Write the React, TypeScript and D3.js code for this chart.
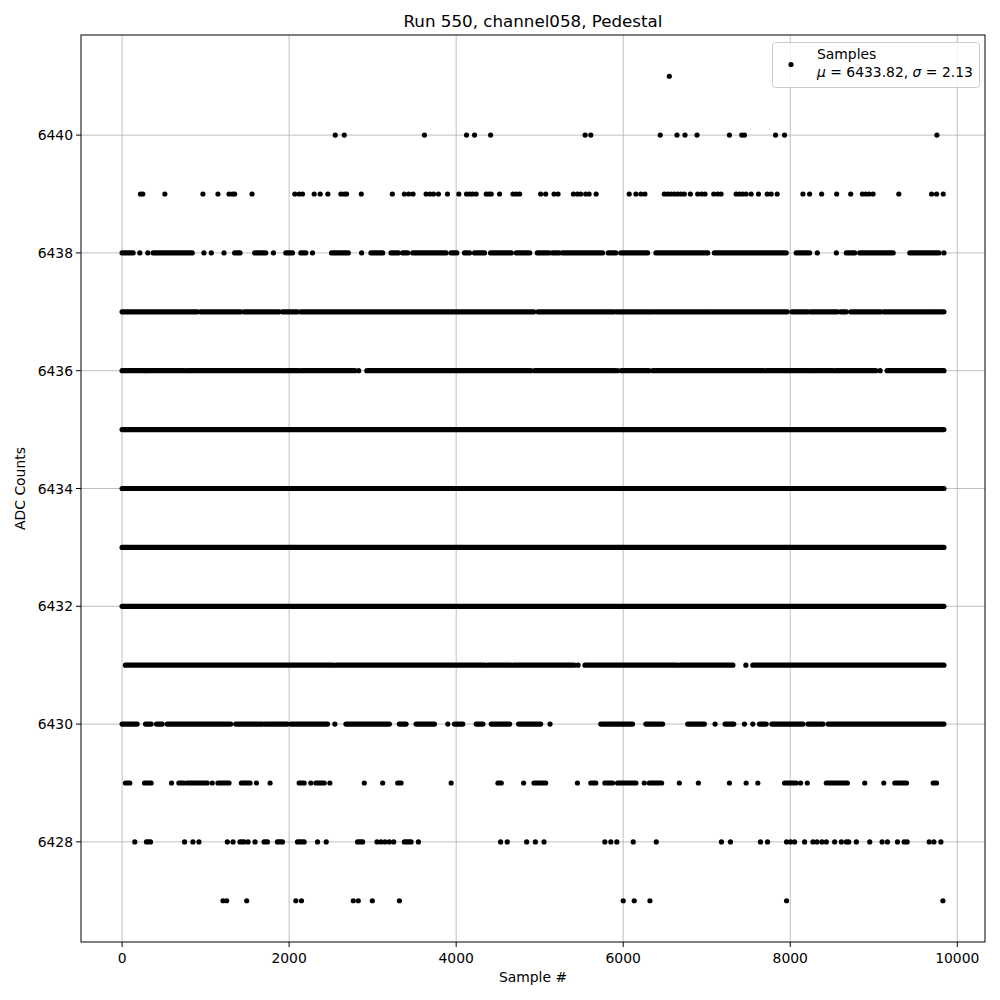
import React from 'react';
import * as d3 from 'd3';

type Run = number | [number, number];

const title = 'Run 550, channel058, Pedestal';
const xLabel = 'Sample #';
const yLabel = 'ADC Counts';
const xTicks = [0, 2000, 4000, 6000, 8000, 10000];
const yTicks = [6428, 6430, 6432, 6434, 6436, 6438, 6440];
const legendTitle = 'Samples';
const legendMu = '6433.82';
const legendSigma = '2.13';

const row6441: Run[] = [6552];
const row6440: Run[] = [2552, 2660, 3620, 4124, 4220, 4412, 5544, 5612, 6444, 6644, 6740, 6884, 7272, 7420, 7452, 7824, 7932, 9756];
const row6439: Run[] = [220, 248, 512, 968, 1148, 1280, 1320, 1348, 1556, 2068, 2120, 2160, 2300, 2372, 2464, 2620, 2660, 2688, 2864, 3236, 3380, 3432, 3484, 3640, 3688, 3728, 3788, 3896, 4032, 4124, 4160, 4196, 4240, 4360, 4392, 4420, 4520, 4680, 4720, 4760, 5012, 5072, 5172, 5220, 5404, 5452, 5492, 5552, 5592, 5676, 6072, 6152, 6212, 6260, 6492, 6532, 6572, 6612, 6652, 6692, 6732, 6804, 6892, 6940, 6980, 7084, 7132, 7172, 7352, 7392, 7432, 7472, 7532, 7620, 7724, 7772, 7844, 8152, 8232, 8376, 8556, 8724, 8864, 8904, 8944, 8992, 9300, 9692, 9752, 9832];
const row6438: Run[] = [[0, 132], 212, 308, [372, 840], 980, 1068, 1220, [1348, 1412], [1588, 1720], 1812, [1960, 2040], [2140, 2200], 2280, [2508, 2708], 2868, [2980, 3120], [3220, 3308], [3360, 3420], [3480, 3880], [3940, 4008], [4100, 4160], [4220, 4340], [4412, 4660], [4720, 4880], [4972, 5112], [5152, 5232], [5272, 5752], [5820, 5912], [5972, 6292], [6392, 7012], [7092, 7952], [8072, 8232], 8324, 8552, [8672, 8772], [8832, 9232], [9432, 9780], 9840];
const row6437: Run[] = [[0, 900], [940, 1420], [1460, 1880], [1920, 2100], [2140, 4930], [4980, 5792], [5812, 5892], [5924, 6352], [6380, 7012], [7032, 7964], [8020, 8212], [8244, 8564], [8604, 8672], [8724, 9084], [9120, 9672], [9692, 9840]];
const row6436: Run[] = [[0, 272], [292, 745], [778, 1932], [1958, 2107], [2139, 2788], 2833, [2930, 4895], [4940, 5900], 5932, [5977, 6308], [6353, 7682], [7715, 8234], [8253, 8512], [8545, 9024], 9076, [9160, 9840]];
const row6435: Run[] = [[0, 9840]];
const row6434: Run[] = [[0, 9840]];
const row6433: Run[] = [[0, 9840]];
const row6432: Run[] = [[0, 9840]];
const row6431: Run[] = [[40, 2528], [2561, 4344], [4376, 4655], [4687, 5413], 5459, [5543, 6645], [6677, 7313], 7469, [7553, 9840]];
const row6430: Run[] = [[0, 180], [280, 348], [412, 480], [540, 1300], [1360, 1680], [1708, 1980], [2020, 2460], 2548, [2680, 3200], [3320, 3400], [3520, 3740], 3900, [3980, 4080], [4240, 4320], [4420, 4640], [4748, 5012], 5124, [5732, 6112], [6272, 6472], [6772, 6972], 7100, [7220, 7324], 7452, 7552, [7632, 7712], [7780, 8152], [8212, 8392], [8452, 9840]];
const row6429: Run[] = [[40, 92], [268, 348], 592, [680, 740], [780, 1020], 1080, [1148, 1280], [1428, 1532], 1608, 1772, [2120, 2180], 2260, [2320, 2420], 2488, 2900, 3120, [3300, 3340], 3940, [4500, 4540], 4808, [4932, 5072], 5452, [5612, 5672], [5780, 5872], [5932, 6152], 6252, [6312, 6460], 6672, 6900, 7272, 7472, 7612, [7932, 8072], 8124, 8204, [8432, 8684], 8892, 9120, [9252, 9392], [9712, 9752]];
const row6428: Run[] = [152, [292, 340], 748, 848, 920, 1260, 1328, [1412, 1460], 1508, 1592, [1700, 1740], [1860, 1920], [2100, 2180], 2340, 2444, [2820, 2880], 3052, 3100, 3148, 3200, 3252, [3380, 3460], 3548, 4532, 4612, 4844, 4948, 5052, 5780, 5852, 5924, 6120, 6396, 7176, 7284, 7644, 7728, 7956, 8004, 8052, 8172, 8272, 8320, 8380, 8432, 8532, 8612, 8672, 8700, 8792, 8952, 9100, 9164, 9284, 9364, 9400, 9664, 9720, 9804];
const row6427: Run[] = [1208, 1252, 1492, 2080, 2148, 2768, 2828, 2996, 3320, 6000, 6132, 6320, 7956, 9828];

const levels = [6427, 6428, 6429, 6430, 6431, 6432, 6433, 6434, 6435, 6436, 6437, 6438, 6439, 6440, 6441];
const rowRuns = [row6427, row6428, row6429, row6430, row6431, row6432, row6433, row6434, row6435, row6436, row6437, row6438, row6439, row6440, row6441];

const W = 1000;
const H = 1000;
const L = 81;
const R = 985;
const T = 35;
const B = 942;
const FONT = 'DejaVu Sans, sans-serif';
const dotR = 2.6;

export default function App() {
  const xMaxData = 9840;
  const x = d3.scaleLinear().domain([-0.05 * xMaxData, xMaxData * 1.05]).range([L, R]);
  const y = d3.scaleLinear().domain([6427 - 0.7, 6441 + 0.7]).range([B, T]);

  const marks: JSX.Element[] = [];
  levels.forEach((lv, i) => {
    rowRuns[i].forEach((run, j) => {
      const a = typeof run === 'number' ? run : run[0];
      const b = typeof run === 'number' ? run : run[1];
      const x0 = x(a) - dotR;
      const x1 = x(b) + dotR;
      marks.push(
        <rect key={`${lv}-${j}`} x={x0} y={y(lv) - dotR} width={x1 - x0} height={dotR * 2} rx={dotR} ry={dotR} fill="#000" />
      );
    });
  });

  return (
    <svg width={W} height={H} style={{ position: 'absolute', left: 0, top: 0, background: '#fff' }} fontFamily={FONT}>
      <rect x={0} y={0} width={W} height={H} fill="#fff" />
      <text x={(L + R) / 2} y={27} textAnchor="middle" fontSize={16.7} fill="#000">{title}</text>
      {/* grid */}
      {xTicks.map((t) => (
        <line key={`gx${t}`} x1={x(t)} x2={x(t)} y1={T} y2={B} stroke="#b0b0b0" strokeWidth={0.8} />
      ))}
      {yTicks.map((t) => (
        <line key={`gy${t}`} x1={L} x2={R} y1={y(t)} y2={y(t)} stroke="#b0b0b0" strokeWidth={0.8} />
      ))}
      {marks}
      {/* spines */}
      <rect x={L} y={T} width={R - L} height={B - T} fill="none" stroke="#000" strokeWidth={1} />
      {xTicks.map((t) => (
        <g key={`tx${t}`}>
          <line x1={x(t)} x2={x(t)} y1={B} y2={B + 5} stroke="#000" strokeWidth={1} />
          <text x={x(t)} y={963} textAnchor="middle" fontSize={13.9} fill="#000">{t}</text>
        </g>
      ))}
      {yTicks.map((t) => (
        <g key={`ty${t}`}>
          <line x1={L - 5} x2={L} y1={y(t)} y2={y(t)} stroke="#000" strokeWidth={1} />
          <text x={L - 8} y={y(t) + 5} textAnchor="end" fontSize={13.9} fill="#000">{t}</text>
        </g>
      ))}
      <text x={(L + R) / 2} y={982} textAnchor="middle" fontSize={13.9} fill="#000">{xLabel}</text>
      <text transform={`translate(25,${(T + B) / 2}) rotate(-90)`} textAnchor="middle" fontSize={13.9} fill="#000">{yLabel}</text>
      {/* legend */}
      <g>
        <rect x={772.5} y={42.5} width={207} height={45} rx={3} ry={3} fill="#fff" fillOpacity={0.8} stroke="#cccccc" strokeWidth={1} />
        <circle cx={791} cy={64.5} r={dotR} fill="#000" />
        <text x={817} y={59} fontSize={13.9} fill="#000">{legendTitle}</text>
        <text x={817} y={77} fontSize={13.9} fill="#000">
          <tspan fontStyle="italic">μ</tspan>
          <tspan>{` = ${legendMu}, `}</tspan>
          <tspan fontStyle="italic">σ</tspan>
          <tspan>{` = ${legendSigma}`}</tspan>
        </text>
      </g>
    </svg>
  );
}
